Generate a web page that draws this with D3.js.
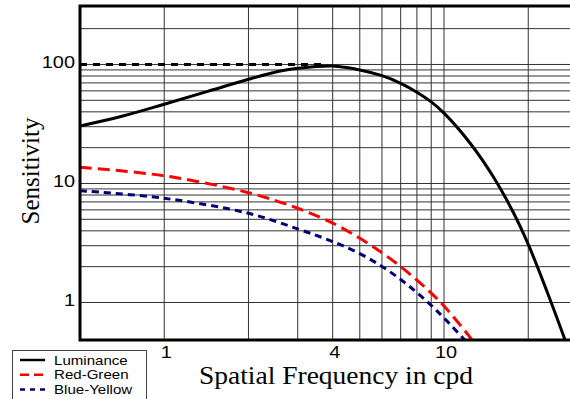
<!DOCTYPE html>
<html>
<head>
<meta charset="utf-8">
<script src="https://cdn.jsdelivr.net/npm/d3@7"></script>
<style>
  body { margin: 0; background: #fff; }
  svg { display: block; }
</style>
</head>
<body>
<svg id="chart" width="570" height="399"></svg>
<script>
// spatial frequency (cpd) and sensitivity
const lumFreq = [0.5, 0.7, 1, 1.42, 2, 2.6, 3, 4, 5, 6, 7, 8, 9, 10, 12.4, 15, 17.6, 20, 23.3, 27, 28];
const lumSens = [30.4, 36.5, 46.3, 59.1, 75.1, 88.2, 92.9, 97, 90, 80.5, 69.5, 58.5, 48.5, 39, 21.8, 11.4, 5.84, 3.08, 1.25, 0.494, 0.39];

const rgFreq = [0.5, 1, 2, 3, 4, 5, 6, 7, 8, 9, 10, 12.3, 12.8];
const rgSens = [13.7, 11.6, 8.37, 6.19, 4.65, 3.47, 2.62, 2.0, 1.54, 1.2, 0.933, 0.522, 0.46];

const byFreq = [0.5, 1, 2, 3, 4, 5, 6, 7, 8, 9, 10, 11.66, 12];
const bySens = [8.7, 7.51, 5.62, 4.15, 3.25, 2.57, 2.01, 1.56, 1.21, 0.945, 0.741, 0.505, 0.467];

// dashed reference line at peak sensitivity
const peakFreq = [0.5, 3.7];
const peakSens = [100, 100];

const xTicks = [1, 4, 10];
const yTicks = [1, 10, 100];
const xGrid = [1, 2, 3, 4, 5, 6, 7, 8, 9, 10, 20];
const yGrid = [1, 2, 3, 4, 5, 6, 7, 8, 9, 10, 20, 30, 40, 50, 60, 70, 80, 90, 100, 200];

const legendNames = ['Luminance', 'Red-Green', 'Blue-Yellow'];
const colors = ['#000000', '#ff0000', '#00007a'];
const dashes = [null, '12,6', '7,5'];

const svg = d3.select('#chart');
const plotLeft = 80, plotRight = 570, plotTop = 6, plotBottom = 340;

const x = d3.scaleLog().domain([0.5, 28.2]).range([plotLeft, plotRight]);
const y = d3.scaleLog().domain([0.484, 310]).range([plotBottom, plotTop]);

svg.append('defs').append('clipPath')
  .attr('id', 'plot')
  .append('rect')
  .attr('x', plotLeft).attr('y', plotTop)
  .attr('width', plotRight - plotLeft).attr('height', plotBottom - plotTop);

// grid
const grid = svg.append('g');
grid.selectAll('line.v')
  .data(xGrid)
  .enter()
  .append('line')
  .attr('x1', d => x(d)).attr('x2', d => x(d))
  .attr('y1', plotTop).attr('y2', plotBottom)
  .style('stroke', '#333')
  .style('stroke-width', 1);
grid.selectAll('line.h')
  .data(yGrid)
  .enter()
  .append('line')
  .attr('x1', plotLeft).attr('x2', plotRight)
  .attr('y1', d => y(d)).attr('y2', d => y(d))
  .style('stroke', '#333')
  .style('stroke-width', 1);

const line = d3.line()
  .x(d => x(d[0]))
  .y(d => y(d[1]))
  .curve(d3.curveCatmullRom.alpha(0.5));

const curves = svg.append('g').attr('clip-path', 'url(#plot)');

curves.append('path')
  .datum(d3.zip(peakFreq, peakSens))
  .attr('d', line)
  .style('fill', 'none')
  .style('stroke', '#000')
  .style('stroke-width', 3)
  .style('stroke-dasharray', '7,6');

const series = [
  d3.zip(lumFreq, lumSens),
  d3.zip(rgFreq, rgSens),
  d3.zip(byFreq, bySens)
];

curves.selectAll('path.series')
  .data(series)
  .enter()
  .append('path')
  .attr('d', line)
  .style('fill', 'none')
  .style('stroke', (d, i) => colors[i])
  .style('stroke-width', 3)
  .style('stroke-dasharray', (d, i) => dashes[i]);

// frame: left, top and bottom edges
svg.append('path')
  .attr('d', `M${plotRight + 2},${plotTop}H${plotLeft}V${plotBottom}H${plotRight + 2}`)
  .style('fill', 'none')
  .style('stroke', '#000')
  .style('stroke-width', 3);

// tick labels
svg.append('g')
  .selectAll('text')
  .data(yTicks)
  .enter()
  .append('text')
  .attr('transform', d => `translate(75,${y(d) - 2}) scale(1.17,1)`)
  .attr('dy', '0.35em')
  .style('text-anchor', 'end')
  .style('font-family', 'Liberation Sans, Arial, sans-serif')
  .style('font-size', '17px')
  .text(d => d);

svg.append('g')
  .selectAll('text')
  .data(xTicks)
  .enter()
  .append('text')
  .attr('transform', d => `translate(${x(d) + 2},358) scale(1.17,1)`)
  .style('text-anchor', 'middle')
  .style('font-family', 'Liberation Sans, Arial, sans-serif')
  .style('font-size', '17px')
  .text(d => d);

// axis titles
svg.append('text')
  .attr('transform', 'translate(336,384) scale(1.1,1)')
  .style('text-anchor', 'middle')
  .style('font-family', 'Liberation Serif, Times New Roman, serif')
  .style('font-size', '25px')
  .text('Spatial Frequency in cpd');

svg.append('text')
  .attr('transform', 'translate(39,171) rotate(-90)')
  .style('text-anchor', 'middle')
  .style('font-family', 'Liberation Serif, Times New Roman, serif')
  .style('font-size', '25px')
  .text('Sensitivity');

// legend
const legend = svg.append('g');
legend.append('rect')
  .attr('x', 12.5).attr('y', 350.5)
  .attr('width', 134).attr('height', 60)
  .style('fill', '#fff')
  .style('stroke', '#444')
  .style('stroke-width', 1);

const items = legend.selectAll('g.item')
  .data(legendNames)
  .enter()
  .append('g')
  .attr('transform', (d, i) => `translate(0,${360 + i * 14.7})`);

items.append('line')
  .attr('x1', 20).attr('x2', 45)
  .style('stroke', (d, i) => colors[i])
  .style('stroke-width', 2.5)
  .style('stroke-dasharray', (d, i) => i === 0 ? null : (i === 1 ? '9,5' : '5,5'));

items.append('text')
  .attr('transform', 'translate(54,0) scale(1.16,1)')
  .attr('dy', '0.35em')
  .style('font-family', 'Liberation Sans, Arial, sans-serif')
  .style('font-size', '13px')
  .text(d => d);
</script>
</body>
</html>
